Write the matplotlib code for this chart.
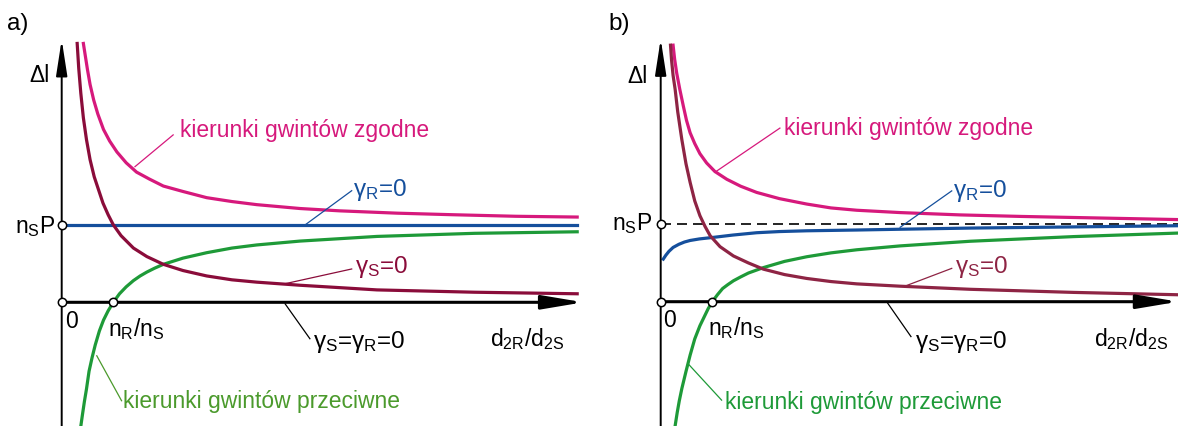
import matplotlib
matplotlib.use('Agg')
import matplotlib.pyplot as plt

plt.rcParams['font.family'] = ['Liberation Sans', 'DejaVu Sans']
plt.rcParams['mathtext.fontset'] = 'custom'
plt.rcParams['mathtext.rm'] = 'Liberation Sans'
plt.rcParams['mathtext.it'] = 'Liberation Sans:italic'
plt.rcParams['mathtext.bf'] = 'Liberation Sans:bold'

# x in units of nR/nS, y in units of nS*P

# panel a)
a_zgodne_x = [0.42, 0.46, 0.50, 0.55, 0.62, 0.70, 0.81, 0.93, 1.07, 1.25, 1.45, 1.70,
              1.97, 2.35, 2.81, 3.30, 3.78, 4.62, 5.39, 6.50, 7.58, 8.80, 9.99]
a_zgodne_y = [3.34, 3.17, 3.00, 2.81, 2.61, 2.43, 2.23, 2.08, 1.94, 1.80, 1.68, 1.59,
              1.50, 1.43, 1.35, 1.30, 1.26, 1.21, 1.18, 1.15, 1.13, 1.11, 1.10]
a_gs_x = [0.30, 0.33, 0.37, 0.42, 0.48, 0.55, 0.63, 0.71, 0.80, 0.90, 1.00, 1.15,
          1.39, 1.65, 1.97, 2.35, 2.81, 3.30, 3.78, 4.62, 6.11, 8.00, 9.99]
a_gs_y = [3.34, 3.02, 2.70, 2.38, 2.10, 1.84, 1.62, 1.46, 1.28, 1.13, 1.00, 0.86,
          0.70, 0.59, 0.49, 0.41, 0.34, 0.29, 0.26, 0.22, 0.16, 0.13, 0.11]
a_gr_x = [0.0, 9.99]
a_gr_y = [1.0, 1.0]
a_przec_x = [0.37, 0.40, 0.44, 0.48, 0.53, 0.59, 0.65, 0.73, 0.81, 0.90, 1.00, 1.12,
             1.25, 1.39, 1.52, 1.65, 1.80, 1.97, 2.35, 2.81, 3.30, 3.78, 4.62, 6.11,
             8.00, 9.99]
a_przec_y = [-1.60, -1.46, -1.28, -1.12, -0.89, -0.71, -0.55, -0.37, -0.23, -0.11, 0.00, 0.11,
             0.20, 0.28, 0.34, 0.39, 0.44, 0.49, 0.57, 0.64, 0.70, 0.74, 0.79, 0.85,
             0.89, 0.91]

# panel b)
b_zgodne_x = [0.24, 0.27, 0.31, 0.37, 0.44, 0.50, 0.57, 0.66, 0.76, 0.89, 1.05, 1.28,
              1.55, 1.86, 2.30, 2.83, 3.30, 3.80, 4.64, 5.80, 7.00, 8.50, 10.0]
b_zgodne_y = [3.31, 3.13, 2.95, 2.74, 2.52, 2.34, 2.18, 2.04, 1.91, 1.79, 1.68, 1.58,
              1.49, 1.41, 1.33, 1.26, 1.21, 1.18, 1.15, 1.12, 1.10, 1.08, 1.06]
b_gs_x = [0.19, 0.21, 0.24, 0.28, 0.33, 0.41, 0.49, 0.57, 0.66, 0.76, 0.86, 0.96,
          1.15, 1.41, 1.70, 1.99, 2.40, 2.83, 3.30, 3.80, 4.64, 6.00, 8.00, 10.0]
b_gs_y = [3.31, 3.12, 2.92, 2.74, 2.45, 2.09, 1.78, 1.54, 1.30, 1.11, 0.97, 0.85,
          0.71, 0.59, 0.50, 0.42, 0.35, 0.30, 0.26, 0.23, 0.20, 0.16, 0.12, 0.09]
b_gr_x = [0.05, 0.10, 0.16, 0.24, 0.35, 0.46, 0.57, 0.75, 1.02, 1.40, 1.86, 2.30,
          2.83, 3.80, 4.64, 6.00, 8.00, 10.0]
b_gr_y = [0.55, 0.60, 0.65, 0.70, 0.74, 0.77, 0.79, 0.81, 0.83, 0.86, 0.89, 0.905,
          0.915, 0.925, 0.935, 0.95, 0.965, 0.98]
b_przec_x = [0.28, 0.32, 0.36, 0.41, 0.49, 0.57, 0.66, 0.76, 0.84, 0.92, 1.00, 1.10,
             1.20, 1.30, 1.41, 1.55, 1.70, 1.99, 2.40, 2.83, 3.30, 3.80, 4.64, 6.00,
             8.00, 10.0]
b_przec_y = [-1.60, -1.43, -1.28, -1.12, -0.90, -0.69, -0.48, -0.31, -0.20, -0.09, 0.00, 0.09,
             0.17, 0.22, 0.27, 0.32, 0.37, 0.44, 0.52, 0.58, 0.63, 0.67, 0.72, 0.78,
             0.84, 0.885]

MAGENTA = '#d6197c'
DARKRED_A = '#8a0c3a'
DARKRED_B = '#8e2444'
BLUE = '#154f9c'
GREEN = '#1e9a38'
GREEN_TXT_A = '#4b9a2c'

W, H = 1178, 427
UX, UY = 51.6, 77.5
FS = 16.5
FS_G = 17.5


def _panel(fig, left, right, ox, oy):
    ax = fig.add_axes([left / W, 0, (right - left) / W, 1])
    ax.set_xlim(-(ox - left) / UX, (right - ox) / UX)
    ax.set_ylim(-(H - oy) / UY, oy / UY)
    ax.axis('off')
    return ax


def _axes_arrows(ax, xtip, ytip, ybot):
    ax.annotate('', xy=(0, ytip), xytext=(0, ybot),
                arrowprops=dict(arrowstyle='-|>,head_length=2.2,head_width=0.34',
                                mutation_scale=10, lw=1.4, color='black',
                                shrinkA=0, shrinkB=0), zorder=5)
    ax.annotate('', xy=(xtip, 0), xytext=(0, 0),
                arrowprops=dict(arrowstyle='-|>,head_length=2.5,head_width=0.42',
                                mutation_scale=10, lw=2.2, color='black',
                                shrinkA=0, shrinkB=0), zorder=5)
    ax.plot([0, 1, 0], [0, 0, 1], 'o', ms=6, mfc='white', mec='black',
            mew=1.1, zorder=7, clip_on=False)


def _leader(ax, p0, p1, color):
    ax.plot([p0[0], p1[0]], [p0[1], p1[1]], color=color, lw=0.9, zorder=4)


def _labels(ax, d):
    ax.text(d['nsP'][0], d['nsP'][1], r'$\mathregular{n_S}$P', fontsize=FS, ha='right', va='baseline')
    ax.text(d['dl'][0], d['dl'][1], '\u0394l', fontsize=FS, ha='right', va='baseline')
    ax.text(d['zero'][0], d['zero'][1], '0', fontsize=FS, va='baseline')
    ax.text(d['nrns'][0], d['nrns'][1], r'$\mathregular{n_R}$/$\mathregular{n_S}$',
            fontsize=FS, va='baseline')
    ax.text(d['d2'][0], d['d2'][1], r'$\mathregular{d_{2R}}$/$\mathregular{d_{2S}}$',
            fontsize=FS, va='baseline')


def _plot():
    fig = plt.figure(figsize=(W / 100, H / 100), dpi=100)
    gr_lbl = r'$\mathregular{\gamma_R}$=0'
    gs_lbl = r'$\mathregular{\gamma_S}$=0'
    gsr_lbl = r'$\mathregular{\gamma_S}$=$\mathregular{\gamma_R}$=0'

    # a)
    ax = _panel(fig, 0, 589, 61.7, 303.3)
    ax.plot(a_zgodne_x, a_zgodne_y, color=MAGENTA, lw=2.3, zorder=3)
    ax.plot(a_gr_x, a_gr_y, color=BLUE, lw=2.3, zorder=3)
    ax.plot(a_przec_x, a_przec_y, color=GREEN, lw=2.3, zorder=3)
    ax.plot(a_gs_x, a_gs_y, color=DARKRED_A, lw=2.3, zorder=3)
    _axes_arrows(ax, 10.11, 3.39, -1.62)
    _leader(ax, (1.42, 1.75), (2.16, 2.16), MAGENTA)
    ax.text(2.29, 2.15, 'kierunki gwintów zgodne', color=MAGENTA, fontsize=FS, va='baseline')
    _leader(ax, (4.72, 1.0), (5.62, 1.44), BLUE)
    ax.text(5.65, 1.39, gr_lbl, color=BLUE, fontsize=FS_G, va='baseline')
    _leader(ax, (4.33, 0.24), (5.62, 0.43), DARKRED_A)
    ax.text(5.68, 0.39, gs_lbl, color=DARKRED_A, fontsize=FS_G, va='baseline')
    _leader(ax, (4.33, -0.02), (4.81, -0.47), 'black')
    ax.text(4.87, -0.58, gsr_lbl, fontsize=FS_G, va='baseline')
    _leader(ax, (0.68, -0.69), (1.16, -1.27), GREEN_TXT_A)
    ax.text(1.19, -1.35, 'kierunki gwintów przeciwne', color=GREEN_TXT_A, fontsize=FS, va='baseline')
    _labels(ax, {'nsP': (-0.13, 0.91), 'dl': (-0.23, 2.85), 'zero': (0.06, -0.32),
                 'nrns': (0.90, -0.42), 'd2': (8.30, -0.55)})
    fig.text(7 / W, 1 - 30 / H, 'a)', fontsize=FS + 1, va='baseline')

    # b)
    ax = _panel(fig, 589, 1178, 660.7, 302.7)
    ax.plot([0, 10.1], [1, 1], color='black', lw=1.2, dashes=(6, 3.6), zorder=2)
    ax.plot(b_zgodne_x, b_zgodne_y, color=MAGENTA, lw=2.3, zorder=3)
    ax.plot(b_gr_x, b_gr_y, color=BLUE, lw=2.3, zorder=3)
    ax.plot(b_przec_x, b_przec_y, color=GREEN, lw=2.3, zorder=3)
    ax.plot(b_gs_x, b_gs_y, color=DARKRED_B, lw=2.3, zorder=3)
    _axes_arrows(ax, 10.03, 3.39, -1.62)
    _leader(ax, (1.05, 1.67), (2.31, 2.24), MAGENTA)
    ax.text(2.39, 2.16, 'kierunki gwintów zgodne', color=MAGENTA, fontsize=FS, va='baseline')
    _leader(ax, (4.64, 0.96), (5.64, 1.43), BLUE)
    ax.text(5.66, 1.37, gr_lbl, color=BLUE, fontsize=FS_G, va='baseline')
    _leader(ax, (4.77, 0.21), (5.64, 0.43), DARKRED_B)
    ax.text(5.70, 0.38, gs_lbl, color=DARKRED_B, fontsize=FS_G, va='baseline')
    _leader(ax, (4.40, -0.02), (4.85, -0.45), 'black')
    ax.text(4.92, -0.58, gsr_lbl, fontsize=FS_G, va='baseline')
    _leader(ax, (0.53, -0.80), (1.18, -1.27), GREEN)
    ax.text(1.25, -1.37, 'kierunki gwintów przeciwne', color=GREEN, fontsize=FS, va='baseline')
    _labels(ax, {'nsP': (-0.16, 0.94), 'dl': (-0.25, 2.84), 'zero': (0.04, -0.31),
                 'nrns': (0.92, -0.42), 'd2': (8.39, -0.56)})
    fig.text(608 / W, 1 - 30 / H, 'b)', fontsize=FS + 1, va='baseline')

    fig.savefig('out.png', dpi=100)


if __name__ == '__main__':
    _plot()
